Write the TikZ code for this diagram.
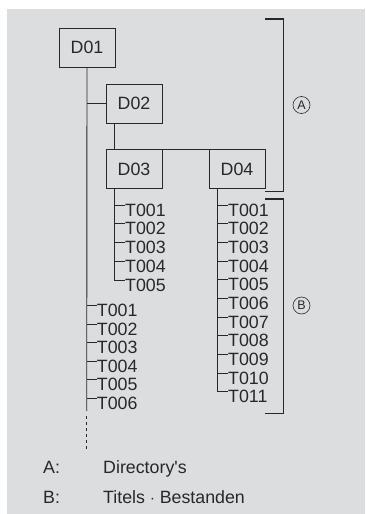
\documentclass[tikz,border=0pt]{standalone}
\usepackage{fontspec}
\setmainfont{Liberation Sans}
\definecolor{bg}{RGB}{220,221,223}
\definecolor{ink}{RGB}{40,40,40}
\begin{document}
\begin{tikzpicture}[x=1pt,y=-1pt,
  txt/.style={font=\fontsize{17.8}{18}\selectfont, text=ink},
  dbox/.style={txt, draw=ink, line width=0.9pt, minimum width=56pt, minimum height=39pt, inner sep=0pt, fill=bg},
  item/.style={txt, anchor=base west, inner sep=0pt},
  tree/.style={draw=ink, line width=0.9pt},
  brk/.style={draw=ink, line width=1.8pt},
  circ/.style={circle, draw=ink, line width=0.6pt, minimum size=17pt, inner sep=0pt, font=\fontsize{12.5}{12.5}\selectfont, text=ink}]
\useasboundingbox (0,0) rectangle (365,514);
\fill[bg] (7,9) rectangle (365,514);

% directory boxes
\node[dbox] (D01) at (87,47.5) {D01};
\node[dbox] (D02) at (134,103.5) {D02};
\node[dbox] (D03) at (134,169) {D03};
\node[dbox] (D04) at (237,169) {D04};

% connectors between boxes
\coordinate (mainEnd) at (86.7,411);
\coordinate (dotStart) at (86.7,416);
\coordinate (dotEnd) at (86.7,450);
\draw[tree] (D01.south) -- (mainEnd);
\draw[tree, dash pattern=on 2.5pt off 3.5pt] (dotStart) -- (dotEnd);
\draw[tree] (D01.south |- D02.west) -- (D02.west);
\draw[tree] ([xshift=9pt]D02.south west) -- ([xshift=9pt]D03.north west);
\draw[tree] (D03.north east) -- (D04.north west);

% D03 titles
\foreach \i/\t in {1/T001,2/T002,3/T003,4/T004,5/T005}{
  \coordinate (a\i) at (125,{205+(\i-1)*18.75});
  \node[item] (A\i) at ([yshift=-11pt]a\i) {\t};
}
\draw[tree] ([xshift=9pt]D03.south west) |- (a5);
\foreach \i in {1,2,3,4}{ \draw[tree] ([xshift=9pt]D03.south west |- a\i) -- (a\i); }

% D04 titles
\foreach \i/\t in {1/T001,2/T002,3/T003,4/T004,5/T005,6/T006,7/T007,8/T008,9/T009,10/T010,11/T011}{
  \coordinate (b\i) at (228,{205+(\i-1)*18.67});
  \node[item] (B\i) at ([yshift=-11pt]b\i) {\t};
}
\draw[tree] ([xshift=9pt]D04.south west) |- (b11);
\foreach \i in {1,...,10}{ \draw[tree] ([xshift=9pt]D04.south west |- b\i) -- (b\i); }

% D01 titles
\foreach \i/\t in {1/T001,2/T002,3/T003,4/T004,5/T005,6/T006}{
  \coordinate (c\i) at (96.7,{305.7+(\i-1)*18.55});
  \node[item] (C\i) at ([yshift=-11pt]c\i) {\t};
  \draw[tree] (D01.south |- c\i) -- (c\i);
}

% brackets
\coordinate (Atop) at (265,19);
\coordinate (Abot) at (265,191.5);
\coordinate (Btop) at (265,199);
\coordinate (Bbot) at (265,413.5);
\draw[brk] (Atop) -| (283.5,191.5) -- (Abot);
\draw[brk] (Btop) -| (283.5,413.5) -- (Bbot);
\node[circ] (cA) at (301.5,105) {A};
\node[circ] (cB) at (301.5,305.5) {B};

% legend
\node[item] (lA) at (43,473) {A:};
\node[item] (lAt) at (103,473) {Directory\textquotesingle s};
\node[item] (lB) at (43,503) {B:};
\node[item] (lBt) at (103,503) {Titels $\cdot$ Bestanden};
\end{tikzpicture}
\end{document}
